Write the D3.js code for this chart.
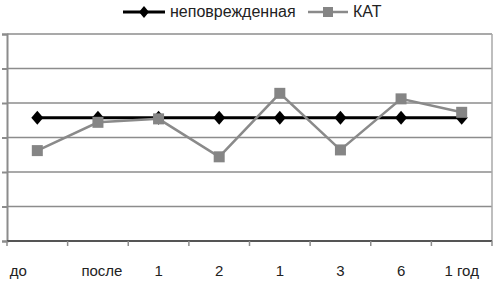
<!DOCTYPE html>
<html>
<head>
<meta charset="utf-8">
<script src="https://cdn.jsdelivr.net/npm/d3@7"></script>
<style>
  body { margin: 0; background: #fff; }
  text { font-family: "Liberation Sans", Arial, sans-serif; font-size: 15px; fill: #222; }
  .legend text { font-size: 16px; }
</style>
</head>
<body>
<div id="chart"></div>
<script>
const width = 495, height = 290;
const margin = {top: 34, right: 3, bottom: 49, left: 7};

// categories on the x axis
const categories = ["до", "после", "1", "2", "1", "3", "6", "1 год"];
// series values
const intact = [3.57, 3.57, 3.57, 3.57, 3.57, 3.57, 3.57, 3.57];
const kat = [2.62, 3.44, 3.54, 2.44, 4.28, 2.64, 4.12, 3.73];
const seriesNames = ["неповрежденная", "КАТ"];
const yTicks = [0, 1, 2, 3, 4, 5, 6];

const svg = d3.select("#chart").append("svg")
    .attr("width", width)
    .attr("height", height);

const x = d3.scaleBand()
    .domain(d3.range(categories.length))
    .range([margin.left, width - margin.right]);

const y = d3.scaleLinear()
    .domain([0, 6])
    .range([height - margin.bottom, margin.top]);

// horizontal gridlines
svg.append("g")
    .selectAll("line")
    .data(yTicks.slice(1))
    .enter().append("line")
    .attr("x1", margin.left)
    .attr("x2", width - margin.right)
    .attr("y1", d => y(d))
    .attr("y2", d => y(d))
    .attr("stroke", "#8c8c8c")
    .attr("stroke-width", 1.5);

// right border of plot area
svg.append("line")
    .attr("x1", width - margin.right).attr("x2", width - margin.right)
    .attr("y1", y(6)).attr("y2", y(0))
    .attr("stroke", "#a8a8a8")
    .attr("stroke-width", 1.5);

// y axis (no labels)
const yaxis = d3.axisLeft(y)
    .tickValues(yTicks)
    .tickSize(5)
    .tickFormat("");
svg.append("g")
    .attr("transform", "translate(" + margin.left + ",0)")
    .call(yaxis)
    .call(g => g.selectAll("line, path").attr("stroke", "#8c8c8c").attr("stroke-width", 2));

// x axis with boundary ticks
const xEdges = d3.range(categories.length + 1).map(i => margin.left + i * x.bandwidth());
const xg = svg.append("g")
    .attr("transform", "translate(0," + y(0) + ")");
xg.append("line")
    .attr("x1", margin.left).attr("x2", width - margin.right)
    .attr("stroke", "#555").attr("stroke-width", 2);
xg.selectAll(".tk")
    .data(xEdges)
    .enter().append("line")
    .attr("x1", d => d).attr("x2", d => d)
    .attr("y1", 0).attr("y2", 5)
    .attr("stroke", "#8c8c8c").attr("stroke-width", 1.5);
xg.selectAll("text")
    .data(categories)
    .enter().append("text")
    .attr("x", (d, i) => x(i) + x.bandwidth() / 2 + (i === 0 ? -19 : i === 1 ? 4 : 0))
    .attr("y", 35)
    .attr("text-anchor", "middle")
    .text(d => d);

const line = d3.line()
    .x((d, i) => x(i) + x.bandwidth() / 2)
    .y(d => y(d));

// intact series: black line, diamonds
svg.append("path")
    .datum(intact)
    .attr("fill", "none")
    .attr("stroke", "#000")
    .attr("stroke-width", 3)
    .attr("d", line);
svg.append("g")
    .selectAll("path")
    .data(intact)
    .enter().append("path")
    .attr("transform", (d, i) => "translate(" + (x(i) + x.bandwidth() / 2) + "," + y(d) + ")")
    .attr("d", "M0,-7L6,0L0,7L-6,0Z")
    .attr("fill", "#000");

// КАТ series: gray line, squares
svg.append("path")
    .datum(kat)
    .attr("fill", "none")
    .attr("stroke", "#8a8a8a")
    .attr("stroke-width", 2.5)
    .attr("d", line);
svg.append("g")
    .selectAll("rect")
    .data(kat)
    .enter().append("rect")
    .attr("x", (d, i) => x(i) + x.bandwidth() / 2 - 5.5)
    .attr("y", d => y(d) - 5.5)
    .attr("width", 11)
    .attr("height", 11)
    .attr("fill", "#858585");

// legend
const legend = svg.append("g").attr("class", "legend");
legend.append("line")
    .attr("x1", 123).attr("x2", 165).attr("y1", 12).attr("y2", 12)
    .attr("stroke", "#000").attr("stroke-width", 3);
legend.append("path")
    .attr("transform", "translate(144,12)")
    .attr("d", "M0,-6L5,0L0,6L-5,0Z")
    .attr("fill", "#000");
legend.append("text")
    .attr("x", 170).attr("y", 17)
    .text(seriesNames[0]);
legend.append("line")
    .attr("x1", 308).attr("x2", 348).attr("y1", 12).attr("y2", 12)
    .attr("stroke", "#8a8a8a").attr("stroke-width", 2.5);
legend.append("rect")
    .attr("x", 323).attr("y", 7).attr("width", 10).attr("height", 10)
    .attr("fill", "#858585");
legend.append("text")
    .attr("x", 353).attr("y", 17)
    .text(seriesNames[1]);
</script>
</body>
</html>
